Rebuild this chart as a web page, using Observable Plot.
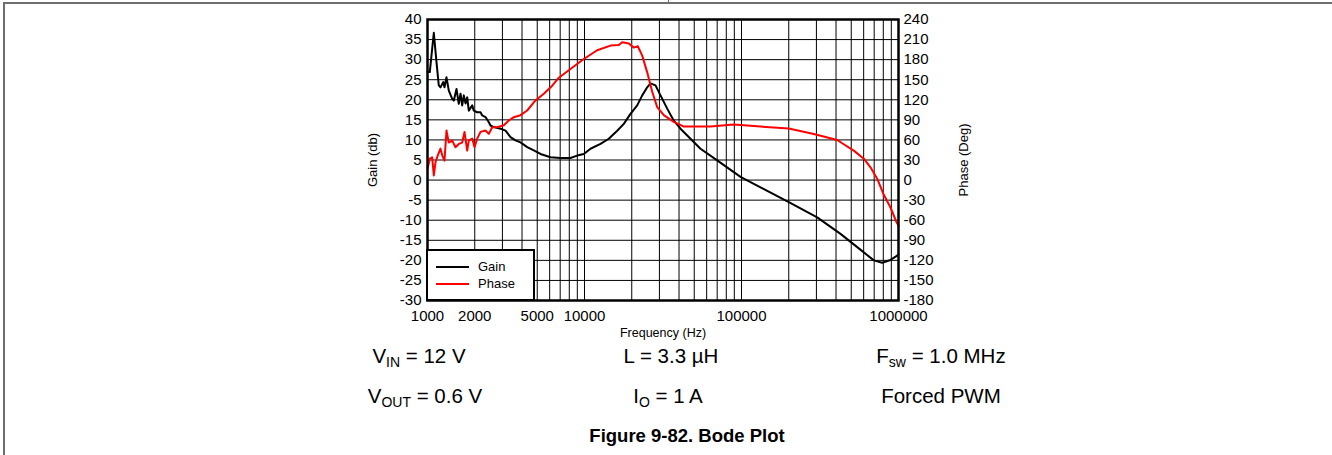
<!DOCTYPE html>
<html>
<head>
<meta charset="utf-8">
<script src="https://cdn.jsdelivr.net/npm/d3@7"></script>
<script src="https://cdn.jsdelivr.net/npm/@observablehq/plot@0.6"></script>
<style>
  body { margin: 0; background: #fff; font-family: "Liberation Sans", Arial, sans-serif; color: #000; }
  #page { position: relative; width: 1332px; height: 455px; overflow: hidden; background: #fff; }
  .bt { position: absolute; top: 2px; left: 3px; right: 0; height: 2px; background: #6e6e6e; }
  .bl { position: absolute; top: 2px; left: 3px; width: 2px; bottom: 0; background: #6e6e6e; }
  .tk { position: absolute; top: 0; left: 668px; width: 1px; height: 3px; background: #6e6e6e; }
  #chart { position: absolute; left: 0; top: 0; }
  .cond { position: absolute; font-size: 20.5px; line-height: 20px; transform: translateX(-50%); white-space: nowrap; }
  .cond sub { font-size: 14px; line-height: 0; vertical-align: -4px; }
  .cap { position: absolute; font-size: 18.5px; line-height: 20px; font-weight: bold; transform: translateX(-50%); white-space: nowrap; }
  #legend { position: absolute; left: 426px; top: 249px; width: 109px; height: 52px; box-sizing: border-box; border: 2px solid #000; background: #fff; }
  #legend .ln { position: absolute; left: 8px; width: 33px; height: 2px; }
  #legend .lt { position: absolute; left: 50px; font-size: 13px; line-height: 14px; }
</style>
</head>
<body>
<div id="page">
  <div class="bt"></div><div class="bl"></div><div class="tk"></div>
  <div id="chart"></div>
  <div id="legend">
    <div class="ln" style="top:15px;background:#000"></div><div class="lt" style="top:9px">Gain</div>
    <div class="ln" style="top:32px;background:#ff0000"></div><div class="lt" style="top:26px">Phase</div>
  </div>
  <div class="cond" style="left:419px;top:346px">V<sub>IN</sub> = 12 V</div>
  <div class="cond" style="left:671px;top:346px">L = 3.3 µH</div>
  <div class="cond" style="left:941px;top:346px">F<sub>sw</sub> = 1.0 MHz</div>
  <div class="cond" style="left:425px;top:386px">V<sub>OUT</sub> = 0.6 V</div>
  <div class="cond" style="left:668px;top:386px">I<sub>O</sub> = 1 A</div>
  <div class="cond" style="left:941px;top:386px">Forced PWM</div>
  <div class="cap" style="left:687px;top:426px">Figure 9-82. Bode Plot</div>
</div>
<script>
// ---- data ----
const freqTicks = [1000, 2000, 5000, 10000, 100000, 1000000];
const gainTicks = [-30, -25, -20, -15, -10, -5, 0, 5, 10, 15, 20, 25, 30, 35, 40];
const phaseTicks = [-180, -150, -120, -90, -60, -30, 0, 30, 60, 90, 120, 150, 180, 210, 240];

const gainFreq = [1000,1034,1097,1141,1180,1210,1259,1283,1321,1367,1437,1471,1530,1582,1623,1663,1703,1746,1790,1833,1927,1972,2073,2176,2231,2341,2458,2519,2645,2917,3140,3379,3635,3912,4315,4754,5245,6073,7033,8143,8984,9897,10919,12643,14282,16158,17796,19633,21665,23315,25083,26327,28333,30486,33636,37056,40882,47336,54815,70001,98540,132130,200150,303460,427180,545760,696180,787330,889150,981060,1000000];
const gainDb = [26.9,26.9,36.7,29.4,23.6,23.1,24.4,23.1,25.6,22.3,20.2,19.8,22.7,19.0,21.5,18.6,21.1,19.1,20.6,17.3,18.6,17.3,16.9,16.9,16.1,15.7,14.4,13.6,13.2,12.8,12.3,10.7,9.9,9.4,8.2,7.4,6.5,5.7,5.5,5.5,6.1,6.5,7.8,9.0,10.3,12.3,14.0,16.5,18.6,21.1,23.1,24.1,23.6,21.1,17.8,14.8,12.8,10.3,7.8,4.9,0.8,-1.8,-5.5,-9.3,-13.4,-16.7,-20.0,-20.6,-19.9,-18.8,-18.4];

const phaseFreq = [1000,1034,1071,1097,1125,1163,1210,1241,1283,1321,1367,1437,1508,1582,1663,1721,1790,1833,1927,1993,2073,2176,2341,2458,2584,2779,3062,3296,3545,3912,4315,4874,5506,6228,6861,8143,9897,12045,14643,16538,17385,19149,20606,21856,23315,25083,26988,29053,31995,37056,42910,52215,63475,89330,132130,200150,288700,407000,437800,519200,601200,663300,731600,806200,889150,971200,1000000];
const phaseDeg = [17,32,34,7,27,37,47,37,29,74,56,59,49,54,56,72,44,59,62,49,62,72,74,69,79,79,82,89,94,97,104,119,129,141,153,166,181,194,201,202,206,204,198,200,186,161,132,109,97,87,80,80,80,83,80,77,69,60,55,44,32,19,2,-22,-41,-63,-68];

// ---- build ----
const gain = gainFreq.map((f, i) => ({f, v: gainDb[i]}));
const phase = phaseFreq.map((f, i) => ({f, v: phaseDeg[i]}));
const gridX = [];
for (let p = 1000; p < 1000000; p *= 10) for (let k = 1; k <= 9; k++) gridX.push(p * k);
gridX.push(1000000);
const phaseToGain = d => d / 6; // -180..240 deg maps onto -30..40 dB

const chart = Plot.plot({
  width: 1332,
  height: 345,
  marginLeft: 427,
  marginRight: 434,
  marginTop: 19,
  marginBottom: 45,
  style: { fontFamily: "'Liberation Sans', Arial, sans-serif", fontSize: "15px", color: "#000", background: "transparent" },
  x: { type: "log", domain: [1000, 1000000], axis: null },
  y: { domain: [-30, 40], axis: null },
  marks: [
    Plot.gridX(gridX, { stroke: "#000", strokeOpacity: 1, strokeWidth: 1 }),
    Plot.gridY(gainTicks, { stroke: "#000", strokeOpacity: 1, strokeWidth: 1 }),
    Plot.line(gain, { x: "f", y: "v", stroke: "#000", strokeWidth: 2 }),
    Plot.line(phase, { x: "f", y: d => phaseToGain(d.v), stroke: "#ff0000", strokeWidth: 2 }),
    Plot.frame({ stroke: "#000", strokeWidth: 2.5 }),
    Plot.text(freqTicks, { x: d => d, text: d => String(d), frameAnchor: "bottom", dy: 20, fontSize: 15 }),
    Plot.axisY(gainTicks, { anchor: "left", tickSize: 0, tickPadding: 6, tickFormat: d => String(d), label: null }),
    Plot.axisY(phaseTicks.map(phaseToGain), { anchor: "right", tickSize: 0, tickPadding: 5, tickFormat: d => String(Math.round(d * 6)), label: null }),
    Plot.text(["Frequency (Hz)"], { frameAnchor: "bottom", dy: 36, fontSize: 12.5 }),
    Plot.text(["Gain (db)"], { frameAnchor: "left", dx: -55, rotate: -90, textAnchor: "middle", fontSize: 13 }),
    Plot.text(["Phase (Deg)"], { frameAnchor: "right", dx: 65, rotate: -90, textAnchor: "middle", fontSize: 13 })
  ]
});
document.getElementById("chart").appendChild(chart);
</script>
</body>
</html>
